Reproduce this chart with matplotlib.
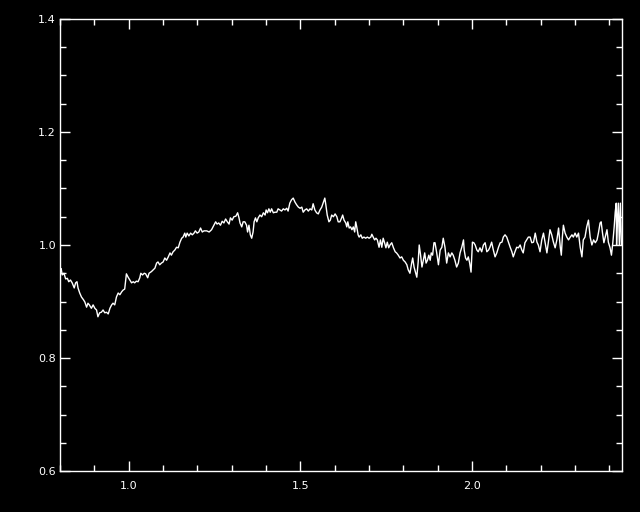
"""
Ratio spectrum, IDL-style: white line on black, inward ticks on all four sides.
Writes out.png (640x512).
"""

import matplotlib
matplotlib.use("Agg")
import matplotlib.pyplot as plt
from matplotlib.ticker import MultipleLocator

# wavelength (micron) and ratio
wavelength = [
    0.803, 0.806, 0.811, 0.816, 0.821, 0.825, 0.830, 0.835, 0.841, 0.845,
    0.849, 0.852, 0.857, 0.862, 0.868, 0.872, 0.877, 0.881, 0.885, 0.891,
    0.896, 0.901, 0.906, 0.910, 0.915, 0.920, 0.925, 0.930, 0.935, 0.940,
    0.945, 0.950, 0.954, 0.959, 0.964, 0.969, 0.974, 0.979, 0.983, 0.988,
    0.993, 0.998, 1.003, 1.008, 1.013, 1.017, 1.022, 1.027, 1.032, 1.035,
    1.040, 1.045, 1.049, 1.055, 1.059, 1.066, 1.071, 1.076, 1.081, 1.085,
    1.090, 1.095, 1.100, 1.105, 1.110, 1.115, 1.120, 1.124, 1.129, 1.134,
    1.139, 1.144, 1.149, 1.154, 1.158, 1.163, 1.166, 1.170, 1.175, 1.180,
    1.185, 1.190, 1.194, 1.199, 1.204, 1.209, 1.214, 1.219, 1.227, 1.234,
    1.241, 1.248, 1.253, 1.257, 1.262, 1.267, 1.272, 1.277, 1.282, 1.287,
    1.292, 1.296, 1.301, 1.306, 1.312, 1.317, 1.321, 1.324, 1.329, 1.333,
    1.338, 1.343, 1.346, 1.350, 1.354, 1.358, 1.362, 1.365, 1.369, 1.373,
    1.377, 1.382, 1.387, 1.392, 1.397, 1.400, 1.404, 1.408, 1.412, 1.416,
    1.421, 1.426, 1.431, 1.435, 1.440, 1.445, 1.450, 1.455, 1.460, 1.464,
    1.469, 1.474, 1.479, 1.484, 1.489, 1.494, 1.499, 1.504, 1.508, 1.513,
    1.518, 1.523, 1.528, 1.533, 1.537, 1.542, 1.547, 1.552, 1.557, 1.562,
    1.566, 1.571, 1.574, 1.578, 1.583, 1.587, 1.591, 1.596, 1.601, 1.606,
    1.610, 1.615, 1.620, 1.623, 1.627, 1.632, 1.635, 1.638, 1.642, 1.646,
    1.650, 1.654, 1.658, 1.661, 1.664, 1.668, 1.671, 1.676, 1.680, 1.685,
    1.690, 1.695, 1.700, 1.705, 1.708, 1.712, 1.716, 1.720, 1.724, 1.729,
    1.733, 1.737, 1.741, 1.745, 1.749, 1.753, 1.757, 1.761, 1.766, 1.771,
    1.776, 1.780, 1.785, 1.790, 1.795, 1.800, 1.805, 1.810, 1.814, 1.819,
    1.824, 1.827, 1.831, 1.835, 1.839, 1.843, 1.846, 1.850, 1.854, 1.858,
    1.862, 1.866, 1.870, 1.874, 1.878, 1.881, 1.885, 1.889, 1.892, 1.897,
    1.902, 1.907, 1.912, 1.916, 1.921, 1.926, 1.931, 1.936, 1.941, 1.945,
    1.950, 1.955, 1.960, 1.965, 1.970, 1.975, 1.977, 1.981, 1.985, 1.989,
    1.993, 1.997, 2.001, 2.005, 2.009, 2.014, 2.018, 2.023, 2.028, 2.033,
    2.038, 2.043, 2.048, 2.052, 2.057, 2.062, 2.067, 2.072, 2.077, 2.082,
    2.087, 2.091, 2.096, 2.101, 2.106, 2.111, 2.116, 2.120, 2.125, 2.130,
    2.135, 2.140, 2.145, 2.149, 2.154, 2.159, 2.164, 2.169, 2.174, 2.179,
    2.184, 2.189, 2.193, 2.198, 2.203, 2.208, 2.213, 2.218, 2.223, 2.227,
    2.232, 2.237, 2.242, 2.247, 2.252, 2.257, 2.260, 2.263, 2.266, 2.271,
    2.276, 2.281, 2.286, 2.291, 2.295, 2.300, 2.305, 2.310, 2.315, 2.320,
    2.324, 2.329, 2.334, 2.339, 2.344, 2.349, 2.354, 2.359, 2.364, 2.368,
    2.373, 2.376, 2.380, 2.384, 2.388, 2.393, 2.397, 2.402, 2.406, 2.410,
    2.414, 2.417, 2.420, 2.421, 2.423, 2.426, 2.429, 2.432, 2.435,
]

ratio = [
    0.958, 0.947, 0.950, 0.940, 0.941, 0.935, 0.938, 0.933, 0.924, 0.933,
    0.935, 0.924, 0.915, 0.908, 0.903, 0.899, 0.890, 0.897, 0.894, 0.888,
    0.894, 0.888, 0.885, 0.873, 0.880, 0.881, 0.885, 0.880, 0.881, 0.878,
    0.888, 0.894, 0.897, 0.894, 0.908, 0.915, 0.912, 0.917, 0.920, 0.922,
    0.949, 0.943, 0.938, 0.933, 0.935, 0.933, 0.936, 0.935, 0.942, 0.950,
    0.947, 0.950, 0.949, 0.942, 0.950, 0.953, 0.956, 0.959, 0.968, 0.970,
    0.965, 0.968, 0.970, 0.977, 0.973, 0.979, 0.986, 0.982, 0.988, 0.991,
    0.996, 0.995, 1.005, 1.012, 1.014, 1.021, 1.014, 1.021, 1.016, 1.021,
    1.018, 1.021, 1.025, 1.021, 1.023, 1.030, 1.023, 1.025, 1.025, 1.023,
    1.027, 1.035, 1.041, 1.037, 1.039, 1.035, 1.042, 1.039, 1.046, 1.041,
    1.037, 1.048, 1.044, 1.050, 1.051, 1.057, 1.048, 1.039, 1.032, 1.041,
    1.041, 1.035, 1.023, 1.035, 1.018, 1.012, 1.023, 1.041, 1.048, 1.041,
    1.048, 1.053, 1.050, 1.057, 1.053, 1.062, 1.057, 1.064, 1.058, 1.064,
    1.057, 1.058, 1.058, 1.064, 1.062, 1.060, 1.064, 1.062, 1.065, 1.060,
    1.074, 1.080, 1.083, 1.076, 1.071, 1.067, 1.065, 1.067, 1.058, 1.062,
    1.064, 1.060, 1.064, 1.062, 1.073, 1.062, 1.057, 1.055, 1.062, 1.067,
    1.074, 1.083, 1.071, 1.053, 1.041, 1.044, 1.053, 1.050, 1.055, 1.050,
    1.041, 1.041, 1.048, 1.053, 1.044, 1.039, 1.032, 1.041, 1.030, 1.032,
    1.027, 1.032, 1.023, 1.041, 1.032, 1.018, 1.014, 1.018, 1.012, 1.014,
    1.012, 1.014, 1.012, 1.014, 1.019, 1.014, 1.009, 1.012, 1.009, 0.996,
    1.009, 0.996, 1.012, 1.004, 0.995, 1.005, 0.995, 1.000, 1.004, 0.995,
    0.988, 0.986, 0.982, 0.977, 0.979, 0.973, 0.970, 0.965, 0.956, 0.950,
    0.968, 0.977, 0.961, 0.952, 0.943, 0.970, 1.000, 0.982, 0.961, 0.973,
    0.986, 0.968, 0.973, 0.982, 0.973, 0.986, 0.982, 1.004, 1.004, 0.986,
    0.965, 0.991, 0.996, 1.012, 0.996, 0.968, 0.986, 0.979, 0.986, 0.982,
    0.973, 0.961, 0.968, 0.986, 0.996, 1.009, 0.991, 0.977, 0.973, 0.979,
    0.968, 0.952, 1.005, 1.004, 1.000, 0.991, 0.988, 0.995, 0.988, 1.000,
    1.004, 0.988, 0.991, 0.996, 1.005, 0.991, 0.979, 0.986, 0.996, 1.004,
    1.005, 1.014, 1.018, 1.014, 1.005, 0.996, 0.988, 0.979, 0.988, 0.996,
    0.995, 1.000, 0.991, 0.986, 1.004, 1.009, 1.014, 1.014, 1.004, 1.005,
    1.021, 1.005, 1.000, 0.988, 1.009, 1.021, 1.004, 0.986, 1.009, 1.027,
    1.018, 1.005, 0.995, 1.009, 1.030, 0.996, 0.982, 1.014, 1.035, 1.021,
    1.014, 1.009, 1.014, 1.018, 1.014, 1.021, 1.014, 1.021, 0.996, 0.979,
    1.009, 1.014, 1.032, 1.044, 1.014, 1.000, 1.009, 1.004, 1.009, 1.021,
    1.039, 1.041, 1.021, 1.004, 1.014, 1.027, 1.005, 0.995, 0.982, 1.004,
    1.032, 1.058, 1.074, 1.000, 1.039, 1.074, 1.000, 1.074, 1.000,
]

x_range = (0.8, 2.437)
y_range = (0.6, 1.4)


def plot_spectrum(out_path):
    fig = plt.figure(figsize=(6.4, 5.12), dpi=100, facecolor="black")
    ax = fig.add_axes([0.094, 0.080, 0.878, 0.883], facecolor="black")

    ax.plot(wavelength, ratio, color="white", lw=1.0)

    ax.set_xlim(*x_range)
    ax.set_ylim(*y_range)

    ax.xaxis.set_major_locator(MultipleLocator(0.5))
    ax.xaxis.set_minor_locator(MultipleLocator(0.1))
    ax.yaxis.set_major_locator(MultipleLocator(0.2))
    ax.yaxis.set_minor_locator(MultipleLocator(0.05))
    ax.xaxis.set_major_formatter(lambda v, pos: f"{v:.1f}")
    ax.yaxis.set_major_formatter(lambda v, pos: f"{v:.1f}")

    for spine in ax.spines.values():
        spine.set_color("white")
        spine.set_linewidth(1.0)

    ax.tick_params(which="both", direction="in", colors="white",
                   top=True, right=True, width=1.0, labelsize=8)
    ax.tick_params(which="major", length=7)
    ax.tick_params(which="minor", length=4)
    ax.tick_params(axis="x", which="major", pad=7)
    ax.tick_params(axis="y", which="major", pad=3)

    fig.savefig(out_path, dpi=100, facecolor="black")
    plt.close(fig)


if __name__ == "__main__":
    plot_spectrum("out.png")
